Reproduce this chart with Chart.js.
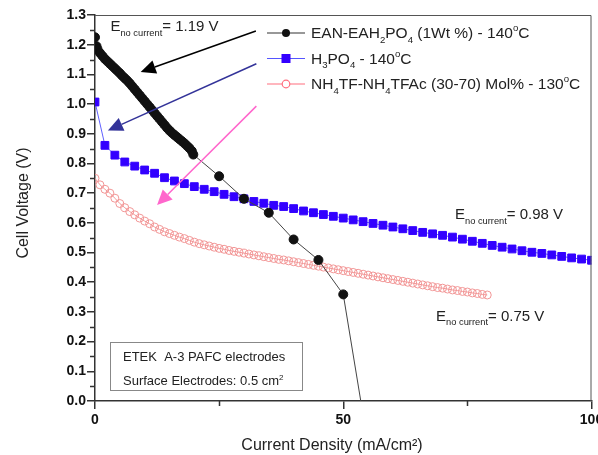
<!DOCTYPE html>
<html>
<head>
<meta charset="utf-8">
<script src="https://cdn.jsdelivr.net/npm/chart.js@4/dist/chart.umd.min.js"></script>
<style>
  html, body { margin: 0; padding: 0; background: #fff; }
</style>
</head>
<body>
<canvas id="fuelCellChart" width="598" height="455"></canvas>
<script>
const FONT = '"Liberation Sans", Arial, sans-serif';

// EAN-EAH2PO4 (1Wt %) - 140°C
const eanX = [0, 0.3, 0.5, 1, 1.5, 2, 2.5, 3, 3.5, 4, 4.5, 5, 5.5, 6, 6.5, 7, 7.5, 8, 8.5, 9, 9.5, 10,
    10.5, 11, 11.5, 12, 12.5, 13, 13.5, 14, 14.5, 15, 15.5, 16, 16.5, 17, 17.5, 18, 18.5, 19, 19.5, 19.8,
    25, 30, 35, 40, 45, 50, 55.5];
const eanV = [1.225, 1.195, 1.185, 1.172, 1.162, 1.152, 1.144, 1.136, 1.128, 1.120, 1.112, 1.104, 1.095,
    1.087, 1.079, 1.070, 1.060, 1.050, 1.040, 1.030, 1.020, 1.010, 1.000, 0.990, 0.980, 0.970, 0.960,
    0.950, 0.940, 0.930, 0.920, 0.911, 0.903, 0.896, 0.889, 0.882, 0.875, 0.868, 0.860, 0.852, 0.842,
    0.830, 0.757, 0.681, 0.634, 0.544, 0.475, 0.359, -0.2];

// H3PO4 - 140°C
const h3poX = [0, 2, 4, 6, 8, 10, 12, 14, 16, 18, 20, 22, 24, 26, 28, 30, 32, 34, 36, 38, 40, 42, 44, 46,
    48, 50, 52, 54, 56, 58, 60, 62, 64, 66, 68, 70, 72, 74, 76, 78, 80, 82, 84, 86, 88, 90, 92, 94, 96, 98, 100];
const h3poV = [1.007, 0.861, 0.828, 0.805, 0.791, 0.778, 0.767, 0.752, 0.741, 0.732, 0.722, 0.713, 0.705,
    0.696, 0.688, 0.681, 0.672, 0.666, 0.659, 0.655, 0.648, 0.640, 0.634, 0.628, 0.622, 0.616, 0.610,
    0.604, 0.598, 0.592, 0.586, 0.580, 0.574, 0.568, 0.563, 0.558, 0.552, 0.545, 0.538, 0.531, 0.524,
    0.518, 0.512, 0.506, 0.501, 0.497, 0.492, 0.487, 0.482, 0.478, 0.474];

// NH4TF-NH4TFAc (30-70) Mol% - 130°C
const nhX = [0, 1, 2, 3, 4, 5, 6, 7, 8, 9, 10, 11, 12, 13, 14, 15, 16, 17, 18, 19, 20, 21, 22, 23, 24, 25,
    26, 27, 28, 29, 30, 31, 32, 33, 34, 35, 36, 37, 38, 39, 40, 41, 42, 43, 44, 45, 46, 47, 48, 49, 50, 51,
    52, 53, 54, 55, 56, 57, 58, 59, 60, 61, 62, 63, 64, 65, 66, 67, 68, 69, 70, 71, 72, 73, 74, 75, 76, 77, 78, 79];
const nhV = [0.750, 0.728, 0.713, 0.700, 0.683, 0.665, 0.651, 0.638, 0.627, 0.616, 0.606, 0.597, 0.586,
    0.578, 0.570, 0.564, 0.558, 0.552, 0.547, 0.541, 0.535, 0.530, 0.526, 0.522, 0.518, 0.514, 0.511,
    0.507, 0.504, 0.501, 0.498, 0.495, 0.492, 0.489, 0.486, 0.483, 0.480, 0.477, 0.475, 0.472, 0.469,
    0.466, 0.463, 0.460, 0.457, 0.454, 0.451, 0.448, 0.445, 0.442, 0.439, 0.436, 0.433, 0.430, 0.427,
    0.424, 0.421, 0.418, 0.415, 0.412, 0.409, 0.406, 0.403, 0.400, 0.397, 0.394, 0.391, 0.388, 0.385,
    0.382, 0.380, 0.377, 0.374, 0.372, 0.369, 0.367, 0.364, 0.362, 0.359, 0.357];

const yTicks = [0, 0.1, 0.2, 0.3, 0.4, 0.5, 0.6, 0.7, 0.8, 0.9, 1.0, 1.1, 1.2, 1.3];
const xTicks = [0, 50, 100];

const black = '#111111';
const violet = '#3300ff';
const coral = '#f29696';

const toPoints = (xs, ys) => xs.map((x, i) => ({ x, y: ys[i] }));

// rich text: parts = [[text, 'n' | 'b' (sub) | 'p' (sup)]]
function richText(ctx, x, y, parts, size, color) {
    let cx = x;
    ctx.fillStyle = color;
    ctx.textAlign = 'left';
    ctx.textBaseline = 'alphabetic';
    for (const [t, m] of parts) {
        const s = m === 'n' ? size : size * 0.62;
        ctx.font = `${s}px ${FONT}`;
        const dy = m === 'b' ? size * 0.3 : m === 'p' ? -size * 0.42 : 0;
        ctx.fillText(t, cx, y + dy);
        cx += ctx.measureText(t).width;
    }
}

function arrow(ctx, x1, y1, x2, y2, color) {
    const ang = Math.atan2(y2 - y1, x2 - x1);
    const len = 15, half = 7;
    const bx = x2 - len * Math.cos(ang), by = y2 - len * Math.sin(ang);
    ctx.strokeStyle = color;
    ctx.fillStyle = color;
    ctx.lineWidth = 1.5;
    ctx.beginPath();
    ctx.moveTo(x1, y1);
    ctx.lineTo(bx, by);
    ctx.stroke();
    ctx.beginPath();
    ctx.moveTo(x2, y2);
    ctx.lineTo(bx + half * Math.sin(ang), by - half * Math.cos(ang));
    ctx.lineTo(bx - half * Math.sin(ang), by + half * Math.cos(ang));
    ctx.closePath();
    ctx.fill();
}

// arrows and notes in data coordinates
const arrows = [
    { from: [32.4, 1.246], to: [9.2, 1.108], color: '#000000' },
    { from: [32.5, 1.136], to: [2.6, 0.911], color: '#333399' },
    { from: [32.5, 0.993], to: [12.5, 0.66], color: '#ff66cc' },
];
const notes = [
    { at: [3.1, 1.245], value: '= 1.19 V' },
    { at: [72.5, 0.612], value: '= 0.98 V' },
    { at: [68.7, 0.27], value: '= 0.75 V' },
];

const decorations = {
    id: 'decorations',
    afterDatasetsDraw(chart) {
        const { ctx, chartArea: a, scales: { x, y } } = chart;
        ctx.save();

        // frame top / right
        ctx.strokeStyle = '#555';
        ctx.lineWidth = 1;
        ctx.beginPath();
        ctx.moveTo(a.left, a.top + 0.5);
        ctx.lineTo(a.right - 0.5, a.top + 0.5);
        ctx.lineTo(a.right - 0.5, a.bottom);
        ctx.stroke();

        // minor ticks
        ctx.strokeStyle = '#333';
        ctx.lineWidth = 1.5;
        ctx.beginPath();
        for (let i = 0; i < yTicks.length - 1; i++) {
            const py = Math.round(y.getPixelForValue(yTicks[i] + 0.05)) + 0.5;
            ctx.moveTo(a.left - 5, py);
            ctx.lineTo(a.left, py);
        }
        for (const v of [25, 75]) {
            const px = Math.round(x.getPixelForValue(v)) + 0.5;
            ctx.moveTo(px, a.bottom);
            ctx.lineTo(px, a.bottom + 5);
        }
        ctx.stroke();

        // arrows
        for (const ar of arrows) {
            arrow(ctx, x.getPixelForValue(ar.from[0]), y.getPixelForValue(ar.from[1]),
                x.getPixelForValue(ar.to[0]), y.getPixelForValue(ar.to[1]), ar.color);
        }

        // E no current notes
        for (const n of notes) {
            richText(ctx, x.getPixelForValue(n.at[0]), y.getPixelForValue(n.at[1]),
                [['E', 'n'], ['no current', 'b'], [n.value, 'n']], 15, '#222');
        }

        // legend
        const rows = [
            { parts: [['EAN-EAH', 'n'], ['2', 'b'], ['PO', 'n'], ['4', 'b'], [' (1Wt %) - 140', 'n'], ['o', 'p'], ['C', 'n']],
              line: '#333', marker: 'dot' },
            { parts: [['H', 'n'], ['3', 'b'], ['PO', 'n'], ['4', 'b'], [' - 140', 'n'], ['o', 'p'], ['C', 'n']],
              line: '#5555ff', marker: 'square' },
            { parts: [['NH', 'n'], ['4', 'b'], ['TF-NH', 'n'], ['4', 'b'], ['TFAc (30-70) Mol% - 130', 'n'], ['o', 'p'], ['C', 'n']],
              line: '#ff6f7f', marker: 'ring' },
        ];
        rows.forEach((r, i) => {
            const cy = a.top + 18 + i * 25.5;
            ctx.strokeStyle = r.line;
            ctx.lineWidth = 1.2;
            ctx.beginPath();
            ctx.moveTo(a.left + 172, cy);
            ctx.lineTo(a.left + 210, cy);
            ctx.stroke();
            const mx = a.left + 191;
            if (r.marker === 'dot') {
                ctx.fillStyle = black;
                ctx.beginPath();
                ctx.arc(mx, cy, 4, 0, Math.PI * 2);
                ctx.fill();
            } else if (r.marker === 'square') {
                ctx.fillStyle = violet;
                ctx.fillRect(mx - 4.5, cy - 4.5, 9, 9);
            } else {
                ctx.fillStyle = '#fff';
                ctx.strokeStyle = '#ff6f7f';
                ctx.lineWidth = 1.2;
                ctx.beginPath();
                ctx.arc(mx, cy, 3.8, 0, Math.PI * 2);
                ctx.fill();
                ctx.stroke();
            }
            richText(ctx, a.left + 216, cy + 5, r.parts, 15.5, '#222');
        });

        // info box
        ctx.strokeStyle = '#888';
        ctx.lineWidth = 1;
        ctx.strokeRect(a.left + 15.5, a.bottom - 58.5, 192, 48);
        ctx.fillStyle = '#222';
        ctx.font = `13px ${FONT}`;
        ctx.fillText('ETEK  A-3 PAFC electrodes', a.left + 28, a.bottom - 40);
        richText(ctx, a.left + 28, a.bottom - 16, [['Surface Electrodes: 0.5 cm', 'n'], ['2', 'p']], 13, '#222');

        // axis titles
        ctx.fillStyle = '#222';
        ctx.font = `16px ${FONT}`;
        ctx.textAlign = 'center';
        ctx.textBaseline = 'middle';
        ctx.fillText('Current Density (mA/cm\u00B2)', 332, 446);
        ctx.translate(24, (a.top + a.bottom) / 2 - 5);
        ctx.rotate(-Math.PI / 2);
        ctx.fillText('Cell Voltage (V)', 0, 0);

        ctx.restore();
    },
};

new Chart(document.getElementById('fuelCellChart'), {
    type: 'line',
    data: {
        datasets: [
            {
                label: 'EAN-EAH2PO4 (1Wt %) - 140°C',
                data: toPoints(eanX, eanV),
                borderColor: '#444',
                borderWidth: 1,
                pointRadius: 4.5,
                pointBackgroundColor: black,
                pointBorderColor: black,
                pointBorderWidth: 1,
            },
            {
                label: 'H3PO4 - 140°C',
                data: toPoints(h3poX, h3poV),
                borderColor: '#6060ff',
                borderWidth: 1,
                pointStyle: 'rect',
                pointRadius: 5.5,
                pointBackgroundColor: violet,
                pointBorderColor: violet,
                pointBorderWidth: 1,
            },
            {
                label: 'NH4TF-NH4TFAc (30-70) Mol% - 130°C',
                data: toPoints(nhX, nhV),
                borderColor: coral,
                borderWidth: 1,
                pointRadius: 4,
                pointBackgroundColor: 'rgba(255,255,255,0)',
                pointBorderColor: coral,
                pointBorderWidth: 1,
            },
        ],
    },
    options: {
        responsive: false,
        animation: false,
        devicePixelRatio: 1,
        layout: { padding: { top: 15, right: 1, left: 0, bottom: 0 } },
        plugins: {
            legend: { display: false },
            tooltip: { enabled: false },
        },
        scales: {
            x: {
                type: 'linear',
                min: 0,
                max: 100,
                afterFit: scale => { scale.height = 54; scale.paddingLeft = 0; scale.paddingRight = 0; },
                afterBuildTicks: scale => { scale.ticks = xTicks.map(value => ({ value })); },
                grid: { drawOnChartArea: false, tickLength: 8, color: '#333', lineWidth: 1.5 },
                border: { color: '#333', width: 1.5 },
                ticks: {
                    padding: 3,
                    color: '#111',
                    maxRotation: 0,
                    font: { family: FONT, size: 14, weight: 'bold' },
                },
            },
            y: {
                min: 0,
                max: 1.3,
                afterFit: scale => { scale.width = 95; scale.paddingTop = 0; scale.paddingBottom = 0; },
                afterBuildTicks: scale => { scale.ticks = yTicks.map(value => ({ value })); },
                grid: { drawOnChartArea: false, tickLength: 8, color: '#333', lineWidth: 1.5 },
                border: { color: '#333', width: 1.5 },
                ticks: {
                    padding: 1,
                    color: '#111',
                    callback: value => Number(value).toFixed(1),
                    font: { family: FONT, size: 14, weight: 'bold' },
                },
            },
        },
    },
    plugins: [decorations],
});
</script>
</body>
</html>
